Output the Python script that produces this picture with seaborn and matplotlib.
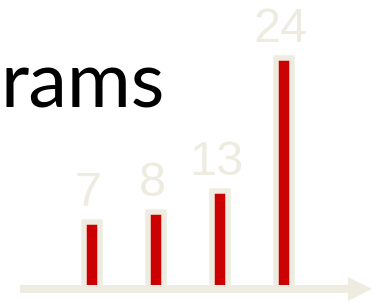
import matplotlib
matplotlib.use("Agg")
import matplotlib.pyplot as plt
import seaborn as sns
import pandas as pd
from matplotlib.patches import FancyArrowPatch
from matplotlib.transforms import IdentityTransform

# data
categories = ["A", "B", "C", "D"]
bar_heights = [7, 8, 10.2, 24]
value_labels = ["7", "8", "13", "24"]
title_text = "rams"

RED = "#CC0000"
BEIGE = "#EEECE1"

sns.set_theme(style="white")
plt.rcParams["font.family"] = ["Liberation Sans", "DejaVu Sans"]

W, H, DPI = 372, 303, 100
fig = plt.figure(figsize=(W / DPI, H / DPI), dpi=DPI)
ax = fig.add_axes([0, 0, 1, 1])

df = pd.DataFrame({"cat": categories, "h": bar_heights})
sns.barplot(data=df, x="cat", y="h", color=RED, saturation=1, width=0.25,
            edgecolor=BEIGE, linewidth=3.96, ax=ax, zorder=2)

# pixel mapping
x0_px, dx_px = 92, 64
base_px = 14
py = 9.615
ax.set_xlim(-x0_px / dx_px, (W - x0_px) / dx_px)
ax.set_ylim(-base_px / py, (H - base_px) / py)
ax.axis("off")

for i, (h, lab) in enumerate(zip(bar_heights, value_labels)):
    ax.annotate(lab, xy=(i, h), xytext=(-2.5, 11.5), textcoords="offset points",
                ha="center", va="baseline", fontsize=35, color=BEIGE,
                family=["Liberation Sans", "DejaVu Sans"])

arrow = FancyArrowPatch((20, base_px), (W, base_px),
                        arrowstyle="simple,tail_width=5.76,head_width=17.3,head_length=17.3",
                        mutation_scale=1, color=BEIGE, lw=0, shrinkA=0, shrinkB=0,
                        transform=IdentityTransform(), zorder=5, clip_on=False)
fig.add_artist(arrow)

fig.text(0.0, (H - 108) / H, title_text, ha="left", va="baseline",
         fontsize=56, color="black", family=["Lato", "DejaVu Sans"])

fig.savefig("out.png", dpi=DPI)
